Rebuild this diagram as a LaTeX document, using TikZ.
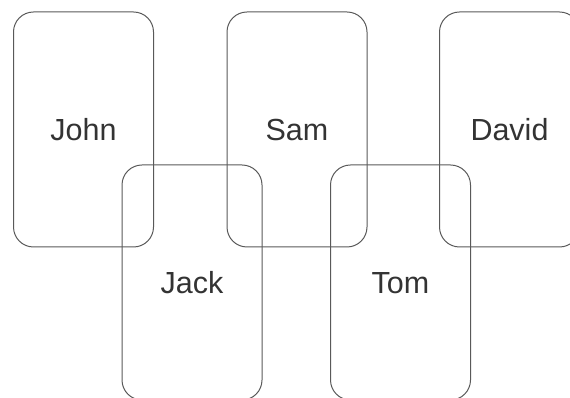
\documentclass[tikz,border=0pt]{standalone}
\usepackage{fontspec}
\setmainfont{Liberation Sans}
\begin{document}
\begin{tikzpicture}[x=1pt,y=1pt,
  card/.style={draw=black!65, line width=1pt, rounded corners=20pt, minimum width=140pt, minimum height=235pt, inner sep=0pt, text=black!80, font=\fontsize{30.5}{36}\selectfont, text height=22pt, text depth=0pt}]
\useasboundingbox (0,0) rectangle (570,398);
\begin{scope}
\clip (0,0) rectangle (570,398);
\node[card] (john) at (83.5,268.5) {John};
\node[card] (sam) at (297,268.5) {Sam};
\node[card] (david) at (509.5,268.5) {David};
\node[card] (jack) at (192,115.5) {Jack};
\node[card] (tom) at (400.5,115.5) {Tom};
\end{scope}
\end{tikzpicture}
\end{document}
